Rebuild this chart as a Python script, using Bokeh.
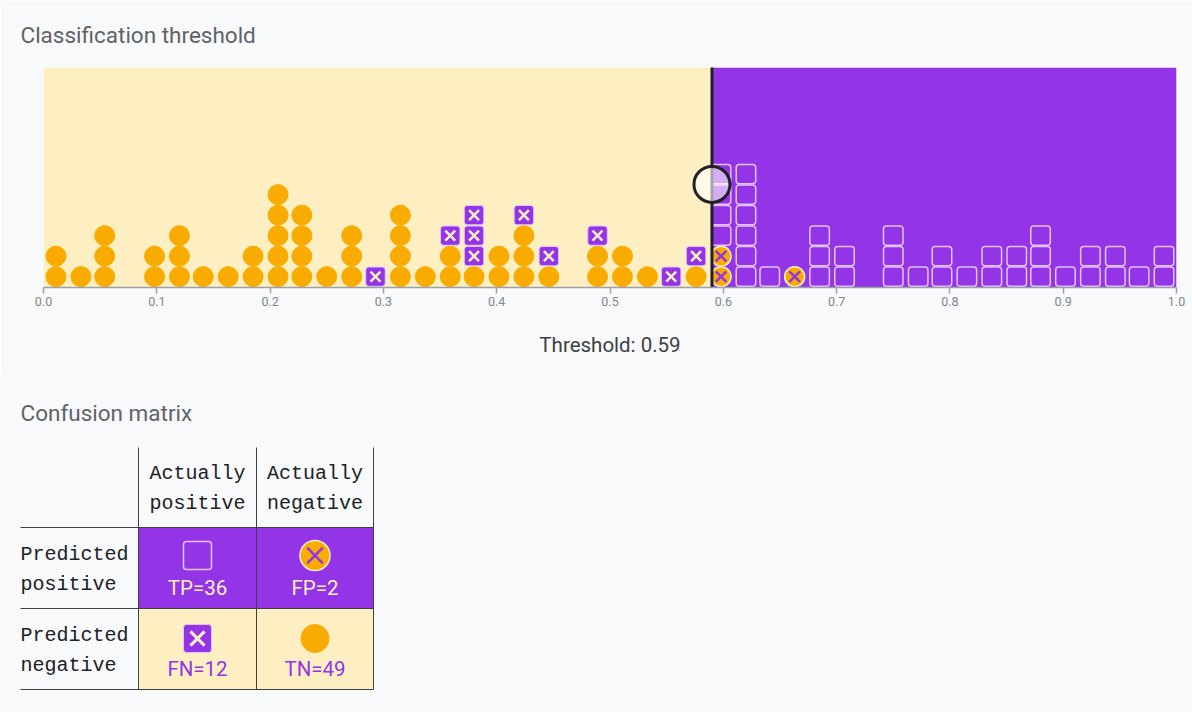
from bokeh.plotting import figure
from bokeh.models import Range1d, FixedTicker, PrintfTickFormatter, BoxAnnotation, ColumnDataSource
from bokeh.layouts import column
from bokeh.embed import file_html
from bokeh.resources import INLINE
from bokeh.core.properties import value

# ---------------- data ----------------
threshold = 0.59
# score of each occupied column and the actual labels stacked in it (bottom to top)
bin_scores = [0.011, 0.033, 0.054, 0.098, 0.120, 0.141, 0.163, 0.185, 0.207, 0.228,
              0.250, 0.272, 0.293, 0.315, 0.337, 0.359, 0.380, 0.402, 0.424, 0.446,
              0.489, 0.511, 0.533, 0.554, 0.576, 0.598, 0.620, 0.641, 0.663, 0.685,
              0.707, 0.750, 0.772, 0.793, 0.815, 0.837, 0.859, 0.880, 0.902, 0.924,
              0.946, 0.967, 0.989]
bin_labels = ["NN", "N", "NNN", "NN", "NNN", "N", "N", "NN", "NNNNN", "NNNN",
              "N", "NNN", "P", "NNNN", "N", "NNP", "NPPP", "NN", "NNNP", "NP",
              "NNP", "NN", "N", "P", "NP", "NNPPPP", "PPPPPP", "P", "N", "PPP",
              "PP", "PPP", "P", "PP", "P", "PP", "PP", "PPP", "P", "PP",
              "PP", "P", "PP"]
tick_values = [0.0, 0.1, 0.2, 0.3, 0.4, 0.5, 0.6, 0.7, 0.8, 0.9, 1.0]

matrix_names = ["TP", "FP", "FN", "TN"]
matrix_counts = [36, 2, 12, 49]
col_headers = [["Actually", "positive"], ["Actually", "negative"]]
row_headers = [["Predicted", "positive"], ["Predicted", "negative"]]

# ---------------- styles ----------------
PURPLE = "#9334e6"
YELLOW = "#feefc3"
ORANGE = "#f9ab00"
LAVENDER = "#e2c4fb"
PAGE = "#f8f9fa"
INK = "#202124"
GREY = "#5f6368"
ROW_PX = 20.5
FRAME_H = 220
Y_TOP = FRAME_H / ROW_PX

# ---------------- build points ----------------
pts = {k: dict(x=[], y=[]) for k in matrix_names}
for s, lab in zip(bin_scores, bin_labels):
    for k, c in enumerate(lab):
        pred_pos = s >= threshold
        if c == "P":
            kind = "TP" if pred_pos else "FN"
        else:
            kind = "FP" if pred_pos else "TN"
        pts[kind]["x"].append(s)
        pts[kind]["y"].append(k + 0.5)
for k in pts:
    pts[k]["top"] = [v + 0.47 for v in pts[k]["y"]]
    pts[k]["bottom"] = [v - 0.47 for v in pts[k]["y"]]

p = figure(width=1192, height=372, x_range=Range1d(0, 1), y_range=Range1d(-0.03, Y_TOP - 0.03),
           output_backend="svg", toolbar_location=None, y_axis_location=None,
           min_border_left=43, min_border_right=16, min_border_top=67, min_border_bottom=85,
           background_fill_color=YELLOW, border_fill_color=PAGE, outline_line_color=None)
p.frame_align = False
p.grid.visible = False
p.title.text = "Classification threshold"
p.title.align = "left"
p.title.offset = -23
p.title.standoff = 39
p.title.text_font = "Roboto"
p.title.text_font_size = "22.5px"
p.title.text_font_style = "normal"
p.title.text_color = GREY

ax = p.xaxis[0]
ax.ticker = FixedTicker(ticks=tick_values)
ax.formatter = PrintfTickFormatter(format="%.1f")
ax.major_label_text_font = "Roboto"
ax.major_label_text_font_size = "12.5px"
ax.major_label_text_color = "#80868b"
ax.axis_line_color = "#9aa0a6"
ax.axis_line_width = 1.5
ax.major_tick_line_color = "#9aa0a6"
ax.major_tick_line_width = 1.5
ax.major_tick_out = 6
ax.major_tick_in = 0
ax.minor_tick_out = 0
ax.minor_tick_in = 0
ax.major_label_standoff = 3
ax.axis_label = f"Threshold: {threshold}"
ax.axis_label_text_font = "Roboto"
ax.axis_label_text_font_size = "20.5px"
ax.axis_label_text_font_style = "normal"
ax.axis_label_text_color = "#3c4043"
ax.axis_label_standoff = 24

p.add_layout(BoxAnnotation(left=threshold, fill_color=PURPLE, fill_alpha=1, line_color=None, level="underlay"))

sq_w = 19.5 / 1133
# TN
p.scatter("x", "y", source=ColumnDataSource(pts["TN"]), marker="circle", size=20,
          fill_color=ORANGE, line_color=ORANGE)
# FP
src = ColumnDataSource(pts["FP"])
p.scatter("x", "y", source=src, marker="circle", size=20, fill_color=ORANGE, line_color=YELLOW, line_width=1.5)
p.scatter("x", "y", source=src, marker="x", size=15, line_color=PURPLE, line_width=2.5)
# FN
src = ColumnDataSource(pts["FN"])
p.vbar(x="x", width=sq_w, bottom="bottom", top="top", source=src, fill_color=PURPLE,
       line_color=LAVENDER, line_width=1, border_radius=3)
p.scatter("x", "y", source=src, marker="x", size=14, line_color=YELLOW, line_width=2.5)
# TP
p.vbar(x="x", width=sq_w, bottom="bottom", top="top", source=ColumnDataSource(pts["TP"]),
       fill_alpha=0, line_color=LAVENDER, line_width=1.5, border_radius=3)

# threshold line + handle
p.segment(x0=[threshold], y0=[-0.03], x1=[threshold], y1=[Y_TOP], line_color=INK, line_width=3)
p.scatter([threshold], [5.0], marker="circle", size=36, fill_color="white", fill_alpha=0.6,
          line_color=INK, line_width=3)

# ---------------- confusion matrix ----------------
q = figure(width=1192, height=340, x_range=Range1d(0, 1192), y_range=Range1d(340, 0),
           output_backend="svg", toolbar_location=None, min_border=0,
           x_axis_location=None, y_axis_location=None,
           background_fill_color=PAGE, border_fill_color=PAGE, outline_line_color=None)
q.frame_align = False
q.grid.visible = False

col_edges = [20, 138, 256, 373]
row_edges = [75, 155, 236, 317]
col_mid = [(col_edges[i] + col_edges[i + 1]) / 2 for i in (1, 2)]

q.text(x=[20], y=[40], text=["Confusion matrix"], text_font=value("Roboto"), text_font_size="22.5px",
       text_color=GREY, text_baseline="middle", text_align="left")

# cell fills
q.quad(left=[col_edges[1]] * 2, right=[col_edges[3]] * 2, top=[row_edges[1], row_edges[2]],
       bottom=[row_edges[2], row_edges[3]], fill_color=[PURPLE, YELLOW], line_color=None)

# grid lines
q.segment(x0=col_edges[1:], y0=[row_edges[0]] * 3, x1=col_edges[1:], y1=[row_edges[3]] * 3,
          line_color="#3c4043", line_width=1)
q.segment(x0=[col_edges[0]] * 3, y0=row_edges[1:], x1=[col_edges[3]] * 3, y1=row_edges[1:],
          line_color="#3c4043", line_width=1)

mono = value("Liberation Mono")
for i, lines in enumerate(col_headers):
    for j, t in enumerate(lines):
        q.text(x=[col_mid[i]], y=[row_edges[0] + 26 + 30 * j], text=[t], text_font=mono,
               text_font_size="20px", text_color=INK, text_align="center", text_baseline="middle")
for i, lines in enumerate(row_headers):
    for j, t in enumerate(lines):
        q.text(x=[col_edges[0]], y=[row_edges[i + 1] + 27 + 30 * j], text=[t], text_font=mono,
               text_font_size="20px", text_color=INK, text_align="left", text_baseline="middle")

icon_y = [row_edges[1] + 28, row_edges[2] + 30]
lab_y = [row_edges[1] + 60, row_edges[2] + 60]
# TP icon
q.block(x=[col_mid[0] - 14], y=[icon_y[0] + 14], width=[28], height=[-28], fill_alpha=0,
        line_color=LAVENDER, line_width=1.5, border_radius=3)
# FP icon
q.scatter([col_mid[1]], [icon_y[0]], marker="circle", size=30, fill_color=ORANGE, line_color=YELLOW, line_width=1.5)
q.scatter([col_mid[1]], [icon_y[0]], marker="x", size=22, line_color=PURPLE, line_width=2.5)
# FN icon
q.block(x=[col_mid[0] - 14], y=[icon_y[1] + 14], width=[28], height=[-28], fill_color=PURPLE,
        line_color=LAVENDER, line_width=1, border_radius=3)
q.scatter([col_mid[0]], [icon_y[1]], marker="x", size=20, line_color=YELLOW, line_width=3)
# TN icon
q.scatter([col_mid[1]], [icon_y[1]], marker="circle", size=28, fill_color=ORANGE, line_color=ORANGE)

cell_x = [col_mid[0], col_mid[1], col_mid[0], col_mid[1]]
cell_y = [lab_y[0], lab_y[0], lab_y[1], lab_y[1]]
cell_c = [YELLOW, YELLOW, PURPLE, PURPLE]
q.text(x=cell_x, y=cell_y, text=[f"{n}={c}" for n, c in zip(matrix_names, matrix_counts)],
       text_font=value("Roboto"), text_font_size="20.5px", text_color=cell_c,
       text_align="center", text_baseline="middle")

layout = column(p, q, spacing=0)
open("out.html", "w").write(file_html(layout, INLINE))
